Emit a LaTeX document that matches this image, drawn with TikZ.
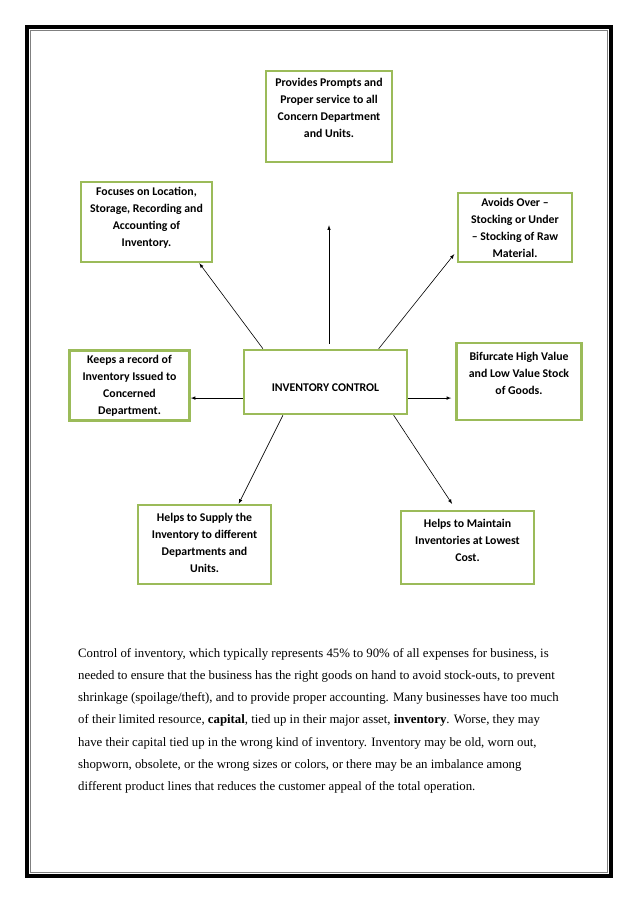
\documentclass[tikz,border=0pt]{standalone}
\usepackage{fontspec}
\setmainfont{Liberation Serif}
\newfontfamily\boxfont{Carlito}
\usepackage{tikz}
\usetikzlibrary{shapes.geometric, arrows}
\definecolor{boxgreen}{RGB}{155,187,89}
\tikzstyle{infobox} = [rectangle, 
draw=boxgreen, 
line width=2.5pt, 
align=center, 
inner sep=2pt, 
font=\boxfont\bfseries\fontsize{11.8}{17}\selectfont]
\tikzstyle{arrow} = [line width=0.6pt,-latex]

\begin{document}
\begin{tikzpicture}[x=1pt, y=1pt, node distance=160pt]

\useasboundingbox (0,0) rectangle (638,903);
\draw[line width=4pt] (27,27) rectangle (611,876);
\draw[line width=0.8pt, gray] (30.5,30.5) rectangle (607.5,872.5);

\node (control) [infobox, minimum width=163pt, minimum height=64pt, text height=19.6pt] at (325.5,521) {INVENTORY CONTROL};

\node (prompt) [infobox, above of=control, xshift=3.5pt, yshift=105.5pt, minimum width=126pt, minimum height=91pt, text depth=18pt] {Provides Prompts and\\ Proper service to all\\ Concern Department\\ and Units.};
\node (focus) [infobox, above of=control, xshift=-179pt, minimum width=131pt, minimum height=80pt, text depth=10.6pt] {Focuses on Location,\\ Storage, Recording and\\ Accounting of\\ Inventory.};
\node (avoid) [infobox, above of=control, xshift=189.5pt, yshift=-5.5pt, minimum width=114pt, minimum height=69pt] {Avoids Over –\\ Stocking or Under\\ – Stocking of Raw\\ Material.};
\node (record) [infobox, left of=control, xshift=-36pt, yshift=-3.5pt, minimum width=120pt, minimum height=70pt] {Keeps a record of\\ Inventory Issued to\\ Concerned\\ Department.};
\node (bifurcate) [infobox, right of=control, xshift=33.5pt, yshift=0.5pt, minimum width=125pt, minimum height=77pt, text depth=16pt] {Bifurcate High Value\\ and Low Value Stock\\ of Goods.};
\node (supply) [infobox, below of=control, xshift=-121pt, yshift=-2.5pt, minimum width=133pt, minimum height=79pt, text depth=4pt] {Helps to Supply the\\ Inventory to different\\ Departments and\\ Units.};
\node (maintain) [infobox, below of=control, xshift=142pt, yshift=-5.5pt, minimum width=133pt, minimum height=73pt, text depth=14pt] {Helps to Maintain\\ Inventories at Lowest\\ Cost.};

\draw[arrow, shorten <=5pt, shorten >=62pt] (control.north -| prompt) -- (prompt.south);
\draw[arrow] (control.152.5) -- (focus.-38.5);
\draw[arrow, shorten >=4pt] (control.32.2) -- (avoid.202);
\draw[arrow] (control.191) -- (control.191 -| record.east);
\draw[arrow, shorten >=4pt] (control.-11) -- (control.-11 -| bifurcate.west);
\draw[arrow] (control.218.5) -- (supply.50.4);
\draw[arrow, shorten >=7pt] (control.-26.1) -- (maintain.107);

\node (text) [anchor=north west, inner sep=0pt, align=left, font=\fontsize{12.8}{22.2}\selectfont] at (78,255) {Control of inventory, which typically represents 45\% to 90\% of all expenses for business, is\\
needed to ensure that the business has the right goods on hand to avoid stock-outs, to prevent\\
shrinkage (spoilage/theft), and to provide proper accounting. Many businesses have too much\\
of their limited resource, \textbf{capital}, tied up in their major asset, \textbf{inventory}. Worse, they may\\
have their capital tied up in the wrong kind of inventory. Inventory may be old, worn out,\\
shopworn, obsolete, or the wrong sizes or colors, or there may be an imbalance among\\
different product lines that reduces the customer appeal of the total operation.};

\end{tikzpicture}
\end{document}
